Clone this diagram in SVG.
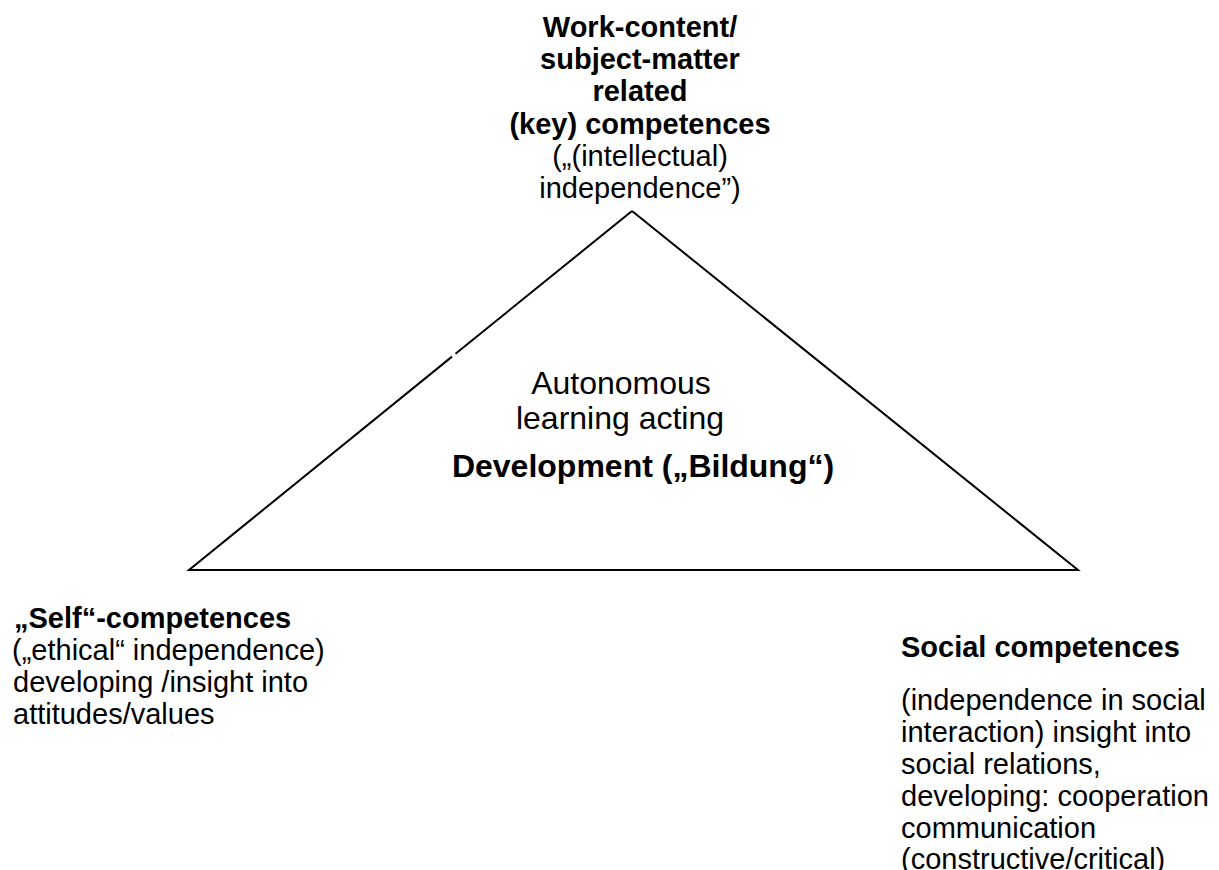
<svg xmlns="http://www.w3.org/2000/svg" width="1219" height="870" viewBox="0 0 1219 870">
  <style>
    text { font-family: "Liberation Sans", Arial, Helvetica, sans-serif; font-size: 29px; fill: #000; }
    .b { font-weight: bold; }
    .c { text-anchor: middle; }
    .big { font-size: 32px; }
    .edge { fill: none; stroke: #000; stroke-width: 2; stroke-linecap: butt; stroke-linejoin: miter; }
  </style>
  <rect width="1219" height="870" fill="#fff"/>

  <!-- triangle outline (small break on the left side) -->
  <g id="connectors">
    <path class="edge" d="M632,211 L455.5,353.8 M452,356.6 L189,570 L1078,570 L632,211"/>
  </g>

  <!-- apex: work-content competences -->
  <g id="node-work-content">
    <text class="b c" x="640" y="37">Work-content/</text>
    <text class="b c" x="640" y="69">subject-matter</text>
    <text class="b c" x="640" y="101">related</text>
    <text class="b c" x="640" y="134">(key) competences</text>
    <text class="c" x="640" y="166">(„(intellectual)</text>
    <text class="c" x="640" y="198">independence”)</text>
  </g>

  <!-- centre of the triangle -->
  <g id="node-centre">
    <text class="c big" x="621" y="394">Autonomous</text>
    <text class="c big" x="620" y="429">learning acting</text>
    <text class="b c big" x="643" y="477">Development („Bildung“)</text>
  </g>

  <!-- bottom left: self-competences -->
  <g id="node-self">
    <text class="b" x="14" y="628">„Self“-competences</text>
    <text x="12" y="660">(„ethical“ independence)</text>
    <text x="13" y="692">developing /insight into</text>
    <text x="13" y="724">attitudes/values</text>
  </g>

  <!-- bottom right: social competences -->
  <g id="node-social">
    <text class="b" x="901" y="657">Social competences</text>
    <text x="901" y="710">(independence in social</text>
    <text x="901" y="742">interaction) insight into</text>
    <text x="901" y="774">social relations,</text>
    <text x="901" y="806">developing: cooperation</text>
    <text x="901" y="838">communication</text>
    <text x="901" y="869">(constructive/critical)</text>
  </g>
</svg>
